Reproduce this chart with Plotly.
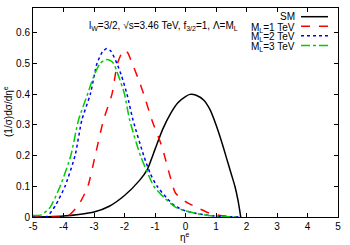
import plotly.graph_objects as go

# SM
sm_x = [-5, -4.5, -4, -3.5, -3, -2.5, -2, -1.5, -1.25, -1, -0.75, -0.5, -0.25, 0, 0.15, 0.35, 0.6, 0.8, 1.0, 1.2, 1.35, 1.5, 1.62, 1.72, 1.78, 1.81]
sm_y = [0.0, 0.001, 0.003, 0.008, 0.016, 0.035, 0.07, 0.12, 0.155, 0.22, 0.285, 0.335, 0.372, 0.392, 0.399, 0.396, 0.38, 0.35, 0.30, 0.24, 0.19, 0.14, 0.10, 0.055, 0.02, 0.0]
# M_L = 1 TeV
r_x = [-5, -4.2, -3.85, -3.5, -3.2, -2.96, -2.69, -2.41, -2.23, -2.03, -1.9, -1.75, -1.55, -1.37, -1.1, -0.77, -0.5, -0.33, 0.0, 0.33, 0.77, 1.1, 1.4, 1.6]
r_y = [0.0, 0.0, 0.004, 0.04, 0.1, 0.2, 0.315, 0.4, 0.5, 0.543, 0.535, 0.5, 0.45, 0.4, 0.315, 0.228, 0.13, 0.078, 0.05, 0.033, 0.013, 0.006, 0.002, 0.0]
# M_L = 2 TeV
b_x = [-5, -4.54, -4.25, -3.95, -3.62, -3.4, -3.12, -2.9, -2.72, -2.58, -2.45, -2.25, -2.1, -1.92, -1.72, -1.37, -1.15, -0.93, -0.6, -0.33, 0.0, 0.33, 0.77, 1.2, 1.78]
b_y = [0.0, 0.002, 0.04, 0.1, 0.2, 0.315, 0.4, 0.5, 0.538, 0.548, 0.54, 0.5, 0.46, 0.4, 0.315, 0.2, 0.14, 0.1, 0.06, 0.035, 0.02, 0.012, 0.005, 0.002, 0.0]
# M_L = 3 TeV
g_x = [-5, -4.75, -4.45, -4.11, -3.76, -3.51, -3.21, -3.0, -2.8, -2.6, -2.45, -2.36, -2.2, -2.0, -1.83, -1.48, -1.25, -1.04, -0.7, -0.33, 0.0, 0.33, 0.77, 1.2, 1.78]
g_y = [0.005, 0.006, 0.03, 0.1, 0.2, 0.315, 0.4, 0.46, 0.5, 0.512, 0.508, 0.5, 0.46, 0.4, 0.315, 0.2, 0.145, 0.1, 0.063, 0.032, 0.02, 0.012, 0.005, 0.002, 0.0]

series = [
    ("SM", sm_x, sm_y, "black", "solid"),
    ("M<sub>L</sub>=1 TeV", r_x, r_y, "#ff0000", "dash"),
    ("M<sub>L</sub>=2 TeV", b_x, b_y, "#0000ff", "dot"),
    ("M<sub>L</sub>=3 TeV", g_x, g_y, "#00cc00", "dashdot"),
]

x_ticks = [-5, -4, -3, -2, -1, 0, 1, 2, 3, 4, 5]
y_ticks = [0, 0.1, 0.2, 0.3, 0.4, 0.5, 0.6]

fig = go.Figure()
for name, xs, ys, col, dash in series:
    fig.add_trace(go.Scatter(x=xs, y=ys, mode="lines", name=name,
                             line=dict(color=col, dash=dash, width=1.5, shape="spline", smoothing=0.6),
                             showlegend=False, hoverinfo="skip"))

font = dict(family="Liberation Sans, Arial, sans-serif", size=10, color="black")

L, R, top, bot = 33, 338, 8, 217
def px(x):
    return (x - L) / (R - L)
def py(y):
    return 1 - (y - top) / (bot - top)

# legend drawn manually (text right-aligned, sample on right)
leg_y = [16.7, 26.2, 35.8, 45.4]
for i, (name, xs, ys, col, dash) in enumerate(series):
    yt = leg_y[i] + (1.5 if i > 0 else 0)
    fig.add_annotation(x=px(296), y=py(yt), xref="paper", yref="paper",
                       text=name, showarrow=False, xanchor="right", yanchor="middle",
                       font=font, borderpad=0)
    fig.add_shape(type="line", xref="paper", yref="paper",
                  x0=px(301), x1=px(328), y0=py(leg_y[i]), y1=py(leg_y[i]),
                  line=dict(color=col, dash=dash, width=1.5))

fig.add_annotation(x=px(87), y=py(26), xref="paper", yref="paper",
                   text="l<sub>W</sub>=3/2, √s=3.46 TeV, f<sub>3/2</sub>=1, Λ=M<sub>L</sub>",
                   showarrow=False, xanchor="left", yanchor="middle", font=font)
fig.add_annotation(x=px(185), y=py(244), xref="paper", yref="paper",
                   text="η<sup>e</sup>", showarrow=False, xanchor="center", yanchor="bottom",
                   font=font, borderpad=0)
fig.add_annotation(x=px(8), y=py(112), xref="paper", yref="paper", textangle=-90,
                   text="(1/σ)dσ/dη<sup>e</sup>", showarrow=False, xanchor="center", yanchor="middle", font=font)

axis_common = dict(showgrid=False, zeroline=False, showline=True, linecolor="black", linewidth=1,
                   mirror="ticks", ticks="inside", ticklen=4, tickcolor="black",
                   tickfont=font)
fig.update_layout(
    width=350, height=245,
    margin=dict(l=L, r=350 - R, t=top, b=245 - bot),
    plot_bgcolor="white", paper_bgcolor="white",
    font=font,
    hovermode=False,
    xaxis=dict(range=[-5, 5], tickvals=x_ticks, ticktext=[str(v) for v in x_ticks], **axis_common),
    yaxis=dict(range=[0, 0.68], tickvals=y_ticks, ticktext=[("0" if v == 0 else f"{v:.1f}") for v in y_ticks],
               **axis_common),
)
fig.write_html("out.html", config={"displayModeBar": False},
               post_script="document.body.style.margin='0';document.body.style.overflow='hidden';")
